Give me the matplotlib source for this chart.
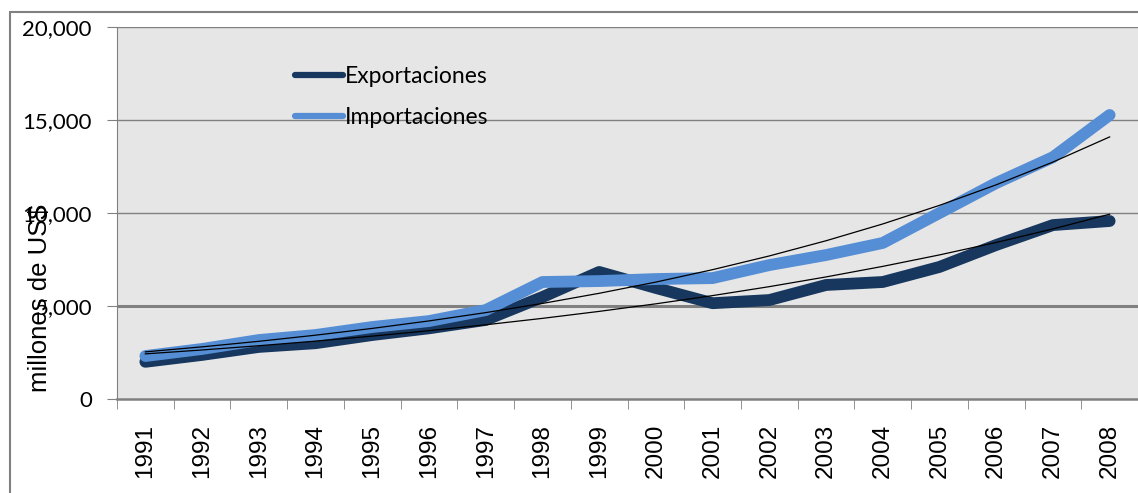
import matplotlib.pyplot as plt
import numpy as np
from matplotlib.patches import Rectangle

# data (millones de US$)
years = ['1991', '1992', '1993', '1994', '1995', '1996', '1997', '1998', '1999',
         '2000', '2001', '2002', '2003', '2004', '2005', '2006', '2007', '2008']
exportaciones = [2000, 2370, 2800, 3000, 3440, 3800, 4250, 5480, 6830,
                 5970, 5150, 5320, 6130, 6290, 7100, 8280, 9350, 9570]
importaciones = [2310, 2690, 3170, 3440, 3870, 4190, 4780, 6290, 6340,
                 6450, 6500, 7200, 7740, 8390, 10000, 11610, 13000, 15270]
yticks = [0, 5000, 10000, 15000, 20000]

x = np.arange(len(years))

fig = plt.figure(figsize=(11.38, 4.93), dpi=100)
ax = fig.add_axes([117 / 1138, 1 - 399 / 493, 1 - 117 / 1138, (399 - 27) / 493])
ax.set_facecolor('#e6e6e6')

ax.plot(x, exportaciones, color='#17375e', lw=8.5, solid_capstyle='round', label='Exportaciones', zorder=3)
ax.plot(x, importaciones, color='#558ed5', lw=8.5, solid_capstyle='round', label='Importaciones', zorder=3)

# exponential trend lines (Excel style)
for serie in (exportaciones, importaciones):
    b, a = np.polyfit(x, np.log(serie), 1)
    ax.plot(x, np.exp(a + b * x), color='black', lw=0.9, zorder=4)

ax.set_xlim(-0.5, len(years) - 0.5)
ax.set_ylim(0, 20000)
ax.set_yticks(yticks)
ax.set_yticklabels([f'{v:,}' for v in yticks], fontfamily='Lato', fontsize=16)
ax.set_xticks(x)
ax.set_xticklabels(years, rotation=90, fontfamily='Liberation Sans', fontsize=17.5)
ax.set_xticks(np.arange(len(years) + 1) - 0.5, minor=True)
ax.tick_params(axis='x', which='major', length=0, pad=18)
ax.tick_params(axis='x', which='minor', length=7, color='#808080')
ax.tick_params(axis='y', length=7, color='#808080', pad=11)

for v in yticks[1:]:
    ax.axhline(v, color='#808080', lw=2.2 if v == 5000 else 1.0, zorder=1)

for s in ('top', 'right'):
    ax.spines[s].set_visible(False)
ax.spines['left'].set_color('#808080')
ax.spines['bottom'].set_color('#808080')
ax.spines['bottom'].set_linewidth(1.8)

fig.text(40 / 1138, 1 - 298 / 493, 'millones de US$', rotation=90, ha='center', va='center',
         fontfamily='Liberation Sans', fontsize=18.5)

leg = ax.legend(loc='upper left', bbox_to_anchor=(0.163, 0.927), frameon=False,
                prop={'family': 'Lato', 'size': 16.5}, handlelength=2.1,
                handletextpad=0.08, labelspacing=0.88, borderpad=0)
for line in leg.get_lines():
    line.set_linewidth(4.5)

# outer chart border
fig.patches.append(Rectangle((10 / 1138, -0.1), 1.2, 1.1 - 12 / 493, transform=fig.transFigure,
                             fill=False, edgecolor='#808080', lw=1.5))

fig.savefig('out.png', dpi=100)
